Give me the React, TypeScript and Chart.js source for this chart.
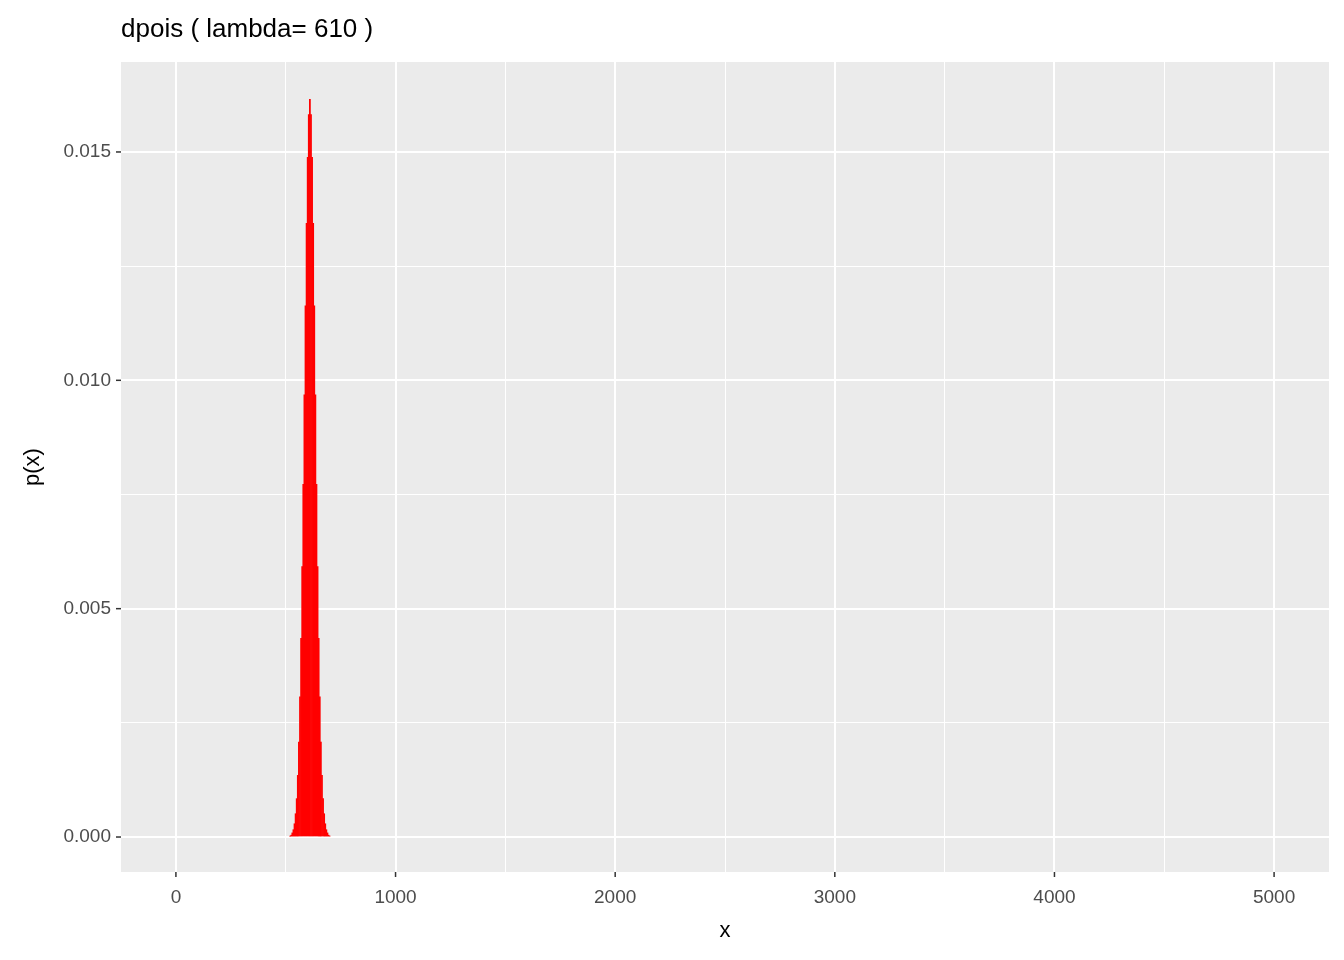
import React, { useEffect, useRef } from "react";
import { Chart, registerables } from "chart.js";
Chart.register(...registerables);

const xs = [520,525,530,535,540,545,550,555,560,565,570,575,580,585,590,595,600,605,610,615,620,625,630,635,640,645,650,655,660,665,670,675,680,685,690,695,700];
const ps = [0.00002,0.00004,0.00009,0.00016,0.00029,0.00051,0.00084,0.00135,0.00208,0.00307,0.00435,0.00592,0.00772,0.00968,0.01163,0.01344,0.01488,0.01582,0.01615,0.01582,0.01488,0.01344,0.01163,0.00968,0.00772,0.00592,0.00435,0.00307,0.00208,0.00135,0.00084,0.00051,0.00029,0.00016,0.00009,0.00004,0.00002];
const xTicks = [0,500,1000,1500,2000,2500,3000,3500,4000,4500,5000];
const yTicks = [0,0.0025,0.005,0.0075,0.01,0.0125,0.015];
const title = "dpois ( lambda= 610 )";

export default function App() {
  const ref = useRef<HTMLCanvasElement>(null);
  useEffect(() => {
    document.body.style.margin = "0";
    const font = "Liberation Sans, Arial, sans-serif";
    const chart = new Chart(ref.current!, {
      type: "bar",
      data: { datasets: [{ data: xs.map((x, i) => ({ x, y: ps[i] })), backgroundColor: "#FF0000", barPercentage: 1, categoryPercentage: 1, borderWidth: 0 }] },
      options: {
        animation: false, responsive: false, devicePixelRatio: 1,
        layout: { padding: { top: 62, right: 15, left: 0, bottom: 0 } },
        plugins: { legend: { display: false }, tooltip: { enabled: false } },
        scales: {
          x: {
            type: "linear", min: -250, max: 5250, offset: false,
            afterBuildTicks: (s: any) => { s.ticks = xTicks.map(v => ({ value: v })); },
            afterFit: (s: any) => { s.height = 88; },
            ticks: { color: "#4D4D4D", font: { size: 19, family: font }, padding: 14, maxRotation: 0,
              callback: (v: any) => (v % 1000 === 0 ? String(v) : "") },
            grid: { offset: false, color: "#FFFFFF", lineWidth: (c: any) => (c.tick && c.tick.value % 1000 === 0 ? 2 : 1),
              drawTicks: false },
            border: { display: false },
          },
          y: {
            min: -0.000766, max: 0.01697,
            afterBuildTicks: (s: any) => { s.ticks = yTicks.map(v => ({ value: v })); },
            afterFit: (s: any) => { s.width = 121; },
            ticks: { color: "#4D4D4D", font: { size: 19, family: font }, padding: 10,
              callback: (v: any) => { const k = Math.round(v / 0.0025); return k % 2 === 0 ? Number(v).toFixed(3) : ""; } },
            grid: { color: "#FFFFFF", lineWidth: (c: any) => { const k = Math.round((c.tick?.value ?? 0) / 0.0025); return k % 2 === 0 ? 2 : 1; },
              drawTicks: false },
            border: { display: false },
          },
        },
      },
      plugins: [{
        id: "deco",
        beforeDraw(c: any) {
          const { ctx, chartArea: a } = c;
          ctx.save();
          ctx.fillStyle = "#FFFFFF"; ctx.fillRect(0, 0, c.width, c.height);
          ctx.fillStyle = "#EBEBEB"; ctx.fillRect(a.left, a.top, a.right - a.left, a.bottom - a.top);
          ctx.restore();
        },
        afterDraw(c: any) {
          const { ctx, chartArea: a } = c;
          ctx.save();
          ctx.strokeStyle = "#333333"; ctx.lineWidth = 1.5;
          xTicks.filter(v => v % 1000 === 0).forEach(v => { const px = c.scales.x.getPixelForValue(v); ctx.beginPath(); ctx.moveTo(px, a.bottom); ctx.lineTo(px, a.bottom + 5); ctx.stroke(); });
          yTicks.filter((v, i) => i % 2 === 0).forEach(v => { const py = c.scales.y.getPixelForValue(v); ctx.beginPath(); ctx.moveTo(a.left - 5, py); ctx.lineTo(a.left, py); ctx.stroke(); });
          ctx.fillStyle = "#000000";
          ctx.font = `26px ${font}`; ctx.textBaseline = "middle"; ctx.textAlign = "left";
          ctx.fillText(title, a.left, 30);
          ctx.font = `22px ${font}`; ctx.textAlign = "center";
          ctx.fillText("x", (a.left + a.right) / 2, 931);
          ctx.translate(33, (a.top + a.bottom) / 2); ctx.rotate(-Math.PI / 2);
          ctx.fillText("p(x)", 0, 0);
          ctx.restore();
        },
      }],
    } as any);
    return () => chart.destroy();
  }, []);
  return <canvas ref={ref} width={1344} height={960} style={{ display: "block" }} />;
}
